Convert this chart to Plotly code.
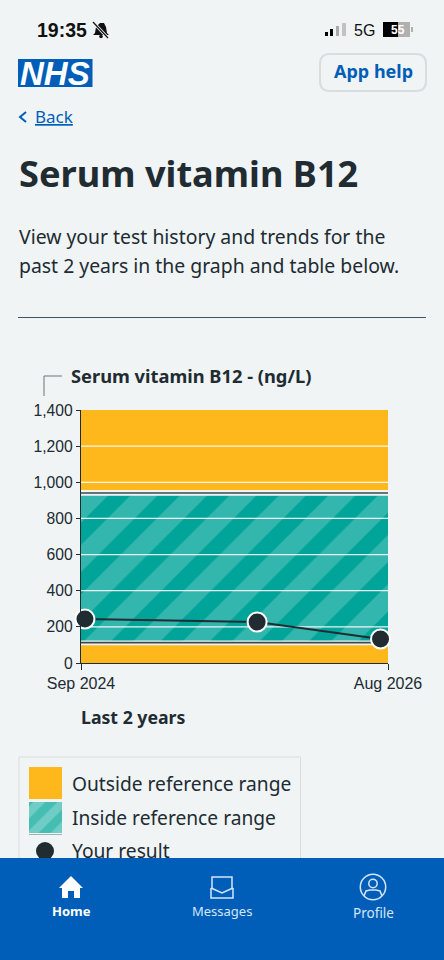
import plotly.graph_objects as go

W = 444
H = 960

# chart values
result_dates = ["2024-09-10", "2025-10-07", "2026-07-15"]
result_values = [243, 227, 133]
x_range = ["2024-09-01", "2026-08-01"]
x_labels = ["Sep 2024", "Aug 2026"]
y_ticks = [0, 200, 400, 600, 800, 1000, 1200, 1400]
grid_values = [200, 400, 600, 800, 1000, 1200]
ref_low = 113
ref_high = 941
outside_low = [0, 98]
inside_band = [125, 925]
outside_high = [957, 1400]

BG = "#f0f4f5"
BLUE = "#005eb8"
INK = "#212b32"
ORANGE = "#ffb81c"
TEAL = "#00a499"
STRIPE = "#33b6ad"
GREY = "#d8dde0"
NAV = "#d5e6f7"
FONT = "Noto Sans"
TICK_FONT = "Liberation Sans"


def px(x):
    return x / W


def py(y):
    return 1 - y / H


def path(points, close=True):
    s = "M " + " L ".join(f"{px(x):.5f},{py(y):.5f}" for x, y in points)
    return s + (" Z" if close else "")


def rect(x0, y0, x1, y1, fill=None, line=None, width=1, layer="above"):
    return dict(type="rect", xref="paper", yref="paper", x0=px(x0), x1=px(x1), y0=py(y0), y1=py(y1),
                fillcolor=fill, line=dict(color=line, width=width if line else 0), layer=layer)


def poly(points, fill=None, line=None, width=1, close=True, layer="above"):
    return dict(type="path", xref="paper", yref="paper", path=path(points, close),
                fillcolor=fill, line=dict(color=line, width=width if line else 0), layer=layer)


def ellipse(cx, cy, r, fill=None, line=None, width=1):
    return dict(type="circle", xref="paper", yref="paper", x0=px(cx - r), x1=px(cx + r),
                y0=py(cy + r), y1=py(cy - r), fillcolor=fill,
                line=dict(color=line, width=width if line else 0), layer="above")


def rounded(x0, y0, x1, y1, r):
    pts = [px(x0 + r), py(y0), px(x1 - r), py(y0), px(x1), py(y0), px(x1), py(y0 + r),
           px(x1), py(y1 - r), px(x1), py(y1), px(x1 - r), py(y1),
           px(x0 + r), py(y1), px(x0), py(y1), px(x0), py(y1 - r),
           px(x0), py(y0 + r), px(x0), py(y0), px(x0 + r), py(y0)]
    return "M {} {} L {} {} Q {} {} {} {} L {} {} Q {} {} {} {} L {} {} Q {} {} {} {} L {} {} Q {} {} {} {} Z".format(*pts)


def text(x, y, s, size, color=INK, anchor="left", family=FONT):
    return dict(xref="paper", yref="paper", x=px(x), y=py(y), text=s, showarrow=False, xanchor=anchor,
                yanchor="middle", font=dict(size=size, color=color, family=family), borderpad=0, borderwidth=0)


fig = go.Figure()


def band(values, **kw):
    fig.add_trace(go.Scatter(x=[x_range[0], x_range[1], x_range[1], x_range[0]],
                             y=[values[0], values[0], values[1], values[1]],
                             mode="none", fill="toself", hoverinfo="skip", **kw))


band(outside_low, fillcolor=ORANGE)
band(outside_high, fillcolor=ORANGE)
band(inside_band, fillcolor=TEAL,
     fillpattern=dict(shape="/", bgcolor=TEAL, fgcolor=STRIPE, size=35, solidity=0.55, fillmode="replace"))

# white grid sits on top of the bands
grid_x = []
grid_y = []
for v in grid_values:
    grid_x += [x_range[0], x_range[1], None]
    grid_y += [v, v, None]
fig.add_trace(go.Scatter(x=grid_x, y=grid_y, mode="lines", line=dict(color="rgba(255,255,255,0.9)", width=1.3),
                         hoverinfo="skip"))

# limits of the reference range
for limit in [ref_low, ref_high]:
    fig.add_trace(go.Scatter(x=x_range, y=[limit, limit], mode="lines", line=dict(color="#3d4a50", width=1.6),
                             hoverinfo="skip"))

fig.add_trace(go.Scatter(x=result_dates, y=result_values, mode="lines+markers", cliponaxis=False,
                         line=dict(color=INK, width=2),
                         marker=dict(size=19, color=INK, line=dict(color="white", width=2))))

# legend contents live on a pixel overlay so the nav bar can cover them
fig.add_trace(go.Scatter(x=[29, 62, 62, 29], y=[802, 802, 833, 833], xaxis="x2", yaxis="y2", mode="none",
                         fill="toself", fillcolor=TEAL, hoverinfo="skip",
                         fillpattern=dict(shape="/", bgcolor="#45bdb2", fgcolor="#6fcdc5", size=17, solidity=0.5,
                                          fillmode="replace")))
fig.add_trace(go.Scatter(x=[45], y=[851], xaxis="x2", yaxis="y2", mode="markers", cliponaxis=False,
                         marker=dict(size=18, color=INK), hoverinfo="skip"))
fig.add_trace(go.Scatter(x=[72], y=[853], xaxis="x2", yaxis="y2", mode="text", text=["Your result"],
                         textposition="middle right", textfont=dict(size=19.2, color=INK, family=FONT),
                         hoverinfo="skip"))

shapes = [
    # status bar
    rect(325, 32, 328, 36, fill="#000000"),
    rect(330, 29, 333, 36, fill="#000000"),
    rect(336, 26, 339, 36, fill="#a9a9a9"),
    rect(342, 23, 346, 36, fill="#c2c2c2"),
    rect(383, 22, 398, 37, fill="#000000"),
    rect(398, 22, 410, 37, fill="#b0b0b0"),
    rect(411, 27, 413, 32, fill="#b0b0b0"),
    poly([(93, 35), (95, 33), (96, 27), (100, 23), (104, 23), (106, 27), (107, 33), (109, 35)], fill="#111111"),
    poly([(93, 22), (108, 38)], line=BG, width=3, close=False),
    poly([(93, 22), (108, 38)], line="#111111", width=1.2, close=False),
    ellipse(101, 36.5, 1.8, fill="#111111"),
    # NHS header
    rect(18, 59, 92.5, 87, fill=BLUE),
    dict(type="path", xref="paper", yref="paper", path=rounded(320, 54, 426, 91, 10), fillcolor=BG,
         line=dict(color=GREY, width=2), layer="above"),
    poly([(26, 112), (20, 117), (26, 122)], line=BLUE, width=2, close=False),
    rect(18, 317, 426, 318, fill="#3f5565"),
    # y axis title bracket
    poly([(62, 376), (44, 376), (44, 396)], line="#6b7378", width=1, close=False),
    # legend box
    rect(19, 757, 300.5, 870, line=GREY, width=1, layer="below"),
    rect(29, 767, 62, 799, fill=ORANGE, layer="below"),
    rect(29, 834, 62, 835, fill="#9fb5b3", layer="below"),
    # bottom navigation
    rect(0, 858, 444, 960, fill=BLUE),
    poly([(71, 876), (83, 888), (80, 888), (80, 898), (74, 898), (74, 891), (68, 891), (68, 898), (62, 898),
          (62, 888), (59, 888)], fill="white"),
    poly([(211, 888), (211, 898), (233, 898), (233, 888)], line=NAV, width=1.5, close=False),
    poly([(212, 888), (212, 877), (232, 877), (232, 888)], line=NAV, width=1.5, close=False),
    poly([(211, 888), (222, 893), (233, 888)], line=NAV, width=1.5, close=False),
    ellipse(373, 887, 12.7, line=NAV, width=1.5),
    ellipse(373, 883.5, 4.2, line=NAV, width=1.5),
    poly([(364, 896), (366, 891), (370, 890), (376, 890), (380, 891), (382, 896)], line=NAV, width=1.5,
         close=False),
]

annotations = [
    text(37, 30, "<b>19:35</b>", 19.5, "#111111", family="Liberation Sans"),
    text(354, 30.5, "5G", 16, "#111111", family="Liberation Sans"),
    text(397.5, 30, "<b>55</b>", 12, "#ffffff", "center", family="Liberation Sans"),
    text(55, 73, "<b><i>NHS</i></b>", 33, "white", "center", family="Liberation Sans"),
    text(373, 71, "<b>App help</b>", 18, BLUE, "center"),
    text(35, 117, "<u>Back</u>", 17, BLUE),
    text(19, 173, "<b>Serum vitamin B12</b>", 36.2),
    text(19, 237, "View your test history and trends for the", 19.4),
    text(19, 265, "past 2 years in the graph and table below.", 19.4),
    text(71, 375, "<b>Serum vitamin B12 - (ng/L)</b>", 18.3),
    text(81, 717, "<b>Last 2 years</b>", 17.7),
    text(72, 783, "Outside reference range", 19.2),
    text(72, 817, "Inside reference range", 19.2),
    text(71, 911, "<b>Home</b>", 13, "white", "center"),
    text(222, 911, "Messages", 13, NAV, "center"),
    text(373, 913, "Profile", 13.5, NAV, "center"),
]

fig.update_layout(
    width=W,
    height=H,
    margin=dict(l=0, r=0, t=0, b=0),
    paper_bgcolor=BG,
    plot_bgcolor="rgba(0,0,0,0)",
    showlegend=False,
    shapes=shapes,
    annotations=annotations,
    xaxis=dict(type="date", domain=[px(81), px(388)], range=x_range, tickvals=x_range, ticktext=x_labels,
               automargin=False, showgrid=False, zeroline=False, showline=True, linecolor=INK, linewidth=1.2,
               ticks="outside", ticklen=6, tickcolor=INK, tickfont=dict(size=16, color=INK, family=TICK_FONT)),
    yaxis=dict(domain=[py(663), py(410)], range=[0, 1400], tickvals=y_ticks, tickformat=",",
               automargin=False, showgrid=False, zeroline=False, showline=True, linecolor=INK, linewidth=1.2,
               ticks="outside", ticklen=4, tickcolor=INK, tickfont=dict(size=15.7, color=INK, family=TICK_FONT)),
    xaxis2=dict(domain=[0, 1], range=[0, W], visible=False, anchor="y2", automargin=False),
    yaxis2=dict(domain=[0, 1], range=[H, 0], visible=False, anchor="x2", automargin=False),
)

fig.write_html("out.html", config=dict(displayModeBar=False),
               post_script="document.body.style.margin='0';document.body.style.overflow='hidden';")
